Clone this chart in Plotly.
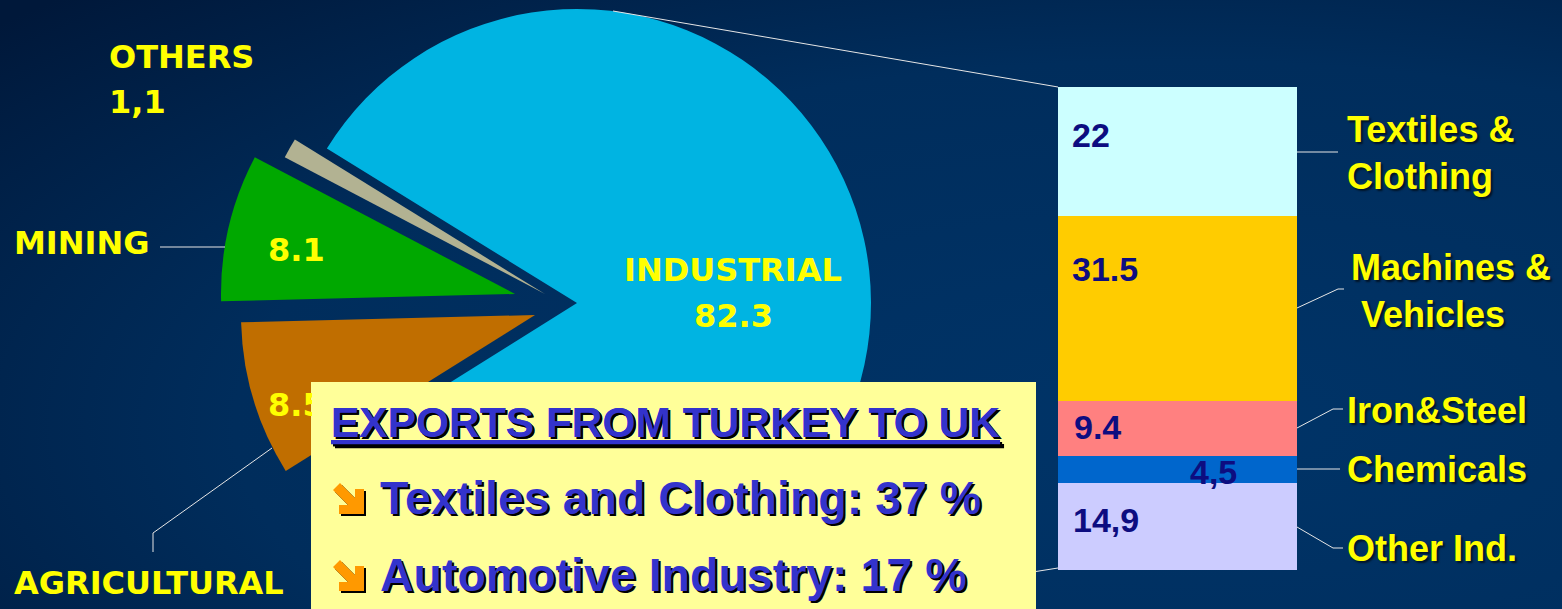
import plotly.graph_objects as go

W, H = 1562, 609

# pie: share of exports by sector
sectors = ["INDUSTRIAL", "AGRICULTURAL", "MINING", "OTHERS"]
sector_shares = [82.3, 8.5, 8.1, 1.1]
sector_labels = ["82.3", "8.5", "8.1", "1,1"]

# stacked bar: breakdown of the industrial share, top to bottom
branches = ["Textiles &<br>Clothing", "Machines &<br>\u00a0Vehicles", "Iron&Steel", "Chemicals", "Other Ind."]
branch_values = [22, 31.5, 9.4, 4.5, 14.9]
branch_labels = ["22", "31.5", "9.4", "4,5", "14,9"]

box_title = "EXPORTS FROM TURKEY TO UK"
box_items = ["Textiles and Clothing: 37 %", "Automotive Industry: 17 %"]


def px(x):
    return x / W


def py(y):
    return 1 - y / H


def path(points, close=False):
    p = "M " + " L ".join(f"{px(x)},{py(y)}" for x, y in points)
    return p + " Z" if close else p


# bullet arrow (pointing down-right), in pixels relative to its top-left corner
ARROW = [(7, 0), (22, 15), (22, 6), (31, 6), (31, 31), (6, 31), (6, 22), (15, 22), (0, 7)]

YELLOW = "#FFFF00"
LINE = "#E6E6E6"
BLUE = "#3333CC"
PIE_FONT = dict(family="DejaVu Sans", size=32, color=YELLOW, weight="bold")
RIGHT_FONT = dict(family="Liberation Sans, Arial", size=36, color=YELLOW, weight="bold",
                  shadow="2px 2px 2px rgba(0,0,0,0.6)")
NUM_FONT = dict(family="Liberation Sans, Arial", size=34, color="#0D0D80", weight="bold")
BOX_FONT = dict(family="Liberation Sans, Arial", color=BLUE, weight="bold", shadow="2px 2px 0px #000000")

fig = go.Figure()

# background
fig.add_trace(go.Scatter(
    x=[-0.25, 1.75, 1.75, -0.25, -0.25], y=[-0.7, -0.7, 1.3, 1.3, -0.7],
    fill="toself", mode="none", hoverinfo="skip", showlegend=False,
    fillgradient=dict(type="radial", colorscale=[[0, "#003468"], [0.6, "#002D5C"], [1, "#00183A"]]),
))

# exploded pie, one trace per slice so each can be offset
pie_order = ["MINING", "OTHERS", "INDUSTRIAL", "AGRICULTURAL"]
pie_colors = {"INDUSTRIAL": "#00B4E2", "AGRICULTURAL": "#C06E00", "MINING": "#00A800", "OTHERS": "#B2B292"}
pie_shift = {"INDUSTRIAL": (0, 0), "MINING": (-62, -9), "OTHERS": (-32, -9), "AGRICULTURAL": (-42, 12)}
R = 294
CX, CY = 577, 303
vals = [sector_shares[sectors.index(s)] for s in pie_order]
total = sum(sector_shares)
start = 148.3 + 360 * (vals[0] + vals[1]) / total
rotation = 90 - start

for name in pie_order:
    dx, dy = pie_shift[name]
    cx, cy = CX + dx, CY + dy
    fig.add_trace(go.Pie(
        labels=pie_order, values=vals, sort=False, direction="clockwise", rotation=rotation,
        marker=dict(colors=[pie_colors[n] if n == name else "rgba(0,0,0,0)" for n in pie_order],
                    line=dict(width=0)),
        textinfo="none", hoverinfo="skip", showlegend=False,
        domain=dict(x=[max(0, (cx - R) / W), min(1, (cx + R) / W)],
                    y=[max(0, (H - cy - R) / H), min(1, (H - cy + R) / H)]),
    ))

# stacked bar
branch_colors = ["#CCFFFF", "#FFCC00", "#FF8080", "#0066CC", "#CCCCFF"]
for i in reversed(range(len(branch_values))):
    fig.add_trace(go.Bar(
        x=[0], y=[branch_values[i]], width=1, xaxis="x2", yaxis="y2",
        marker=dict(color=branch_colors[i], line=dict(width=0)),
        hoverinfo="skip", showlegend=False,
    ))

annotations = []

# pie labels
pie_label_pos = {
    "INDUSTRIAL": [(733, 270, "center", "INDUSTRIAL"), (733, 316, "center", None)],
    "MINING": [(12, 243, "left", "MINING"), (296, 250, "center", None)],
    "OTHERS": [(107, 57, "left", "OTHERS"), (107, 102, "left", None)],
    "AGRICULTURAL": [(12, 583, "left", "AGRICULTURAL"), (267, 405, "left", None)],
}
for k, name in enumerate(sectors):
    for x, y, anchor, txt in pie_label_pos[name]:
        ann = dict(
            xref="paper", yref="paper", x=px(x), y=py(y), xanchor=anchor, yanchor="middle",
            text=txt if txt else sector_labels[k], showarrow=False, font=PIE_FONT,
        )
        if name == "AGRICULTURAL" and txt is None:
            # value partly hidden behind the text box
            ann.update(width=311 - x, align="left", borderpad=0)
        annotations.append(ann)

# text box content
annotations.append(dict(
    xref="paper", yref="paper", x=px(329), y=py(422), xanchor="left", yanchor="middle",
    text=box_title, showarrow=False, font=dict(BOX_FONT, size=42.5, lineposition="under"),
))
for item, yc in zip(box_items, [498, 575]):
    annotations.append(dict(
        xref="paper", yref="paper", x=px(378), y=py(yc), xanchor="left", yanchor="middle",
        text=item, showarrow=False, font=dict(BOX_FONT, size=46.5),
    ))

# bar value labels, anchored at the top of each segment
label_dx = [12, 12, 14, 130, 13]
label_dy = [48, 53, 26, 16, 37]
top = total_ind = sum(branch_values)
for i, lab in enumerate(branch_labels):
    annotations.append(dict(
        xref="x2", yref="y2", x=-0.5, y=top, xanchor="left", yanchor="middle",
        xshift=label_dx[i], yshift=-label_dy[i], text=lab, showarrow=False, font=NUM_FONT,
    ))
    top -= branch_values[i]

# branch names
branch_pos = [(1345, 152.5), (1349, 290.5), (1345, 410), (1345, 470), (1345, 548)]
for name, (x, y) in zip(branches, branch_pos):
    annotations.append(dict(
        xref="paper", yref="paper", x=px(x), y=py(y), xanchor="left", yanchor="middle",
        text=name, showarrow=False, align="left", font=RIGHT_FONT,
    ))

leaders = [
    [(1297, 152), (1338, 152)],
    [(1297, 308), (1338, 289), (1344, 289)],
    [(1297, 428), (1333, 409), (1343, 409)],
    [(1297, 469), (1340, 469)],
    [(1297, 527), (1333, 548), (1343, 548)],
    [(160, 247), (225, 247)],
    [(153, 552), (153, 533), (272, 448)],
    [(613, 11), (1058, 87)],
    [(1020, 574), (1058, 568)],
]
shapes = [dict(type="path", xref="paper", yref="paper", path=path(p),
               line=dict(color=LINE, width=1), layer="above") for p in leaders]

# yellow box over the pie
shapes.append(dict(type="rect", xref="paper", yref="paper", x0=px(311), x1=px(1036), y0=py(382), y1=py(640),
                   fillcolor="#FFFF99", line=dict(width=0), layer="above"))
for ax, ay in [(333, 483), (333, 560)]:
    for off, col in [(2, "#000000"), (0, "#FF9900")]:
        shapes.append(dict(type="path", xref="paper", yref="paper",
                           path=path([(ax + x + off, ay + y + off) for x, y in ARROW], close=True),
                           fillcolor=col, line=dict(width=0), layer="above"))

fig.update_layout(
    width=W, height=H,
    margin=dict(l=0, r=0, t=0, b=0),
    paper_bgcolor="#002B5A",
    plot_bgcolor="rgba(0,0,0,0)",
    barmode="stack",
    bargap=0,
    showlegend=False,
    xaxis=dict(domain=[0, 1], range=[0, 1], visible=False, fixedrange=True),
    yaxis=dict(domain=[0, 1], range=[0, 1], visible=False, fixedrange=True),
    xaxis2=dict(domain=[px(1058), px(1297)], range=[-0.5, 0.5], visible=False, anchor="y2"),
    yaxis2=dict(domain=[py(570), py(87)], range=[0, total_ind], visible=False, anchor="x2"),
    annotations=annotations,
    shapes=shapes,
)

fig.write_html("out.html", config={"displayModeBar": False},
               post_script="document.body.style.margin = '0';")
